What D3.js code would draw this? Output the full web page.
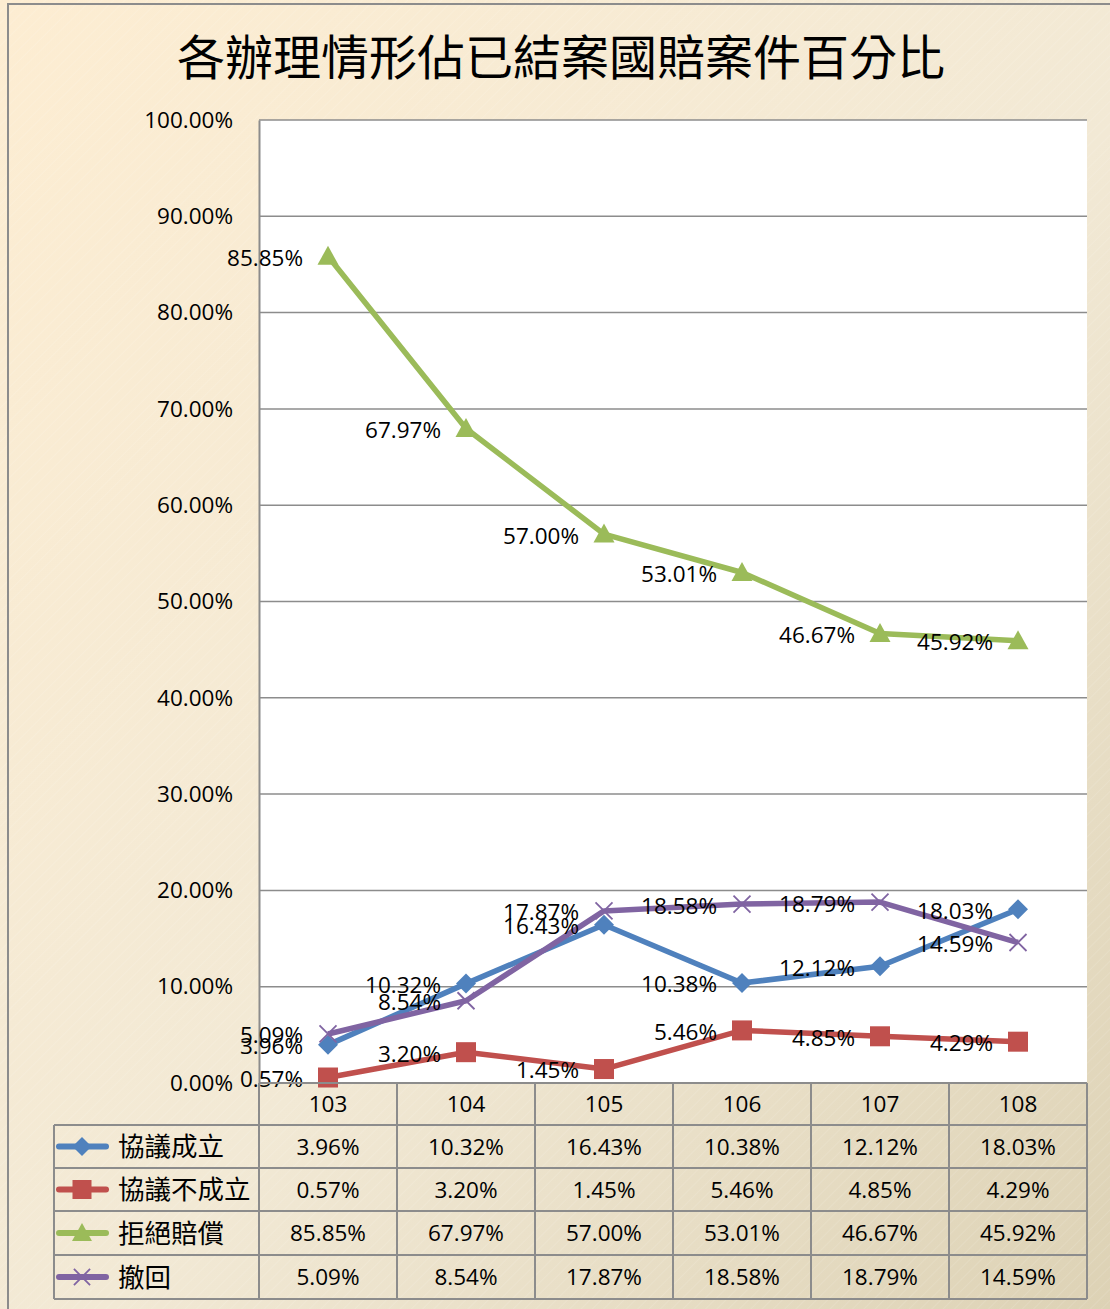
<!DOCTYPE html>
<html>
<head>
<meta charset="utf-8">
<script src="https://cdn.jsdelivr.net/npm/d3@7"></script>
<style>
  body { margin: 0; padding: 0; background: #fff; }
  svg { display: block; }
</style>
</head>
<body>
<svg id="chart" width="1110" height="1309"></svg>
<script>
// chart data
var years = ["103", "104", "105", "106", "107", "108"];
var seriesNames = ["協議成立", "協議不成立", "拒絕賠償", "撤回"];
var agreed = [3.96, 10.32, 16.43, 10.38, 12.12, 18.03];
var notAgreed = [0.57, 3.20, 1.45, 5.46, 4.85, 4.29];
var rejected = [85.85, 67.97, 57.00, 53.01, 46.67, 45.92];
var withdrawn = [5.09, 8.54, 17.87, 18.58, 18.79, 14.59];
var yTicks = [0, 10, 20, 30, 40, 50, 60, 70, 80, 90, 100];
var title = "各辦理情形佔已結案國賠案件百分比";

var colors = ["#4f81bd", "#c0504d", "#9bbb59", "#8064a2"];
var markers = ["diamond", "square", "triangle", "cross"];
var allValues = [agreed, notAgreed, rejected, withdrawn];

var svg = d3.select("#chart");
var numFont = "'Open Sans', 'Liberation Sans', sans-serif";
var cjkFont = "'Noto Sans CJK TC', 'Noto Sans CJK SC', sans-serif";
var numSize = 22.5;

// background
var defs = svg.append("defs");
var grad = defs.append("linearGradient").attr("id", "bg")
    .attr("x1", "0%").attr("y1", "0%").attr("x2", "100%").attr("y2", "100%");
grad.append("stop").attr("offset", "0%").attr("stop-color", "#fdedd2");
grad.append("stop").attr("offset", "55%").attr("stop-color", "#f2e9d5");
grad.append("stop").attr("offset", "100%").attr("stop-color", "#ddd2b5");

var pat = defs.append("pattern").attr("id", "stripes")
    .attr("width", 8).attr("height", 8)
    .attr("patternUnits", "userSpaceOnUse")
    .attr("patternTransform", "rotate(45)");
pat.append("line").attr("x1", 0).attr("y1", 0).attr("x2", 0).attr("y2", 8)
    .attr("stroke", "#ffffff").attr("stroke-width", 1).attr("stroke-opacity", 0.22);

svg.append("rect").attr("x", 0).attr("y", 0).attr("width", 1110).attr("height", 1309)
    .attr("fill", "url(#bg)");
svg.append("rect").attr("x", 0).attr("y", 0).attr("width", 1110).attr("height", 1309)
    .attr("fill", "url(#stripes)");
// outer frame
svg.append("path").attr("d", "M8,1309 V4 H1110")
    .attr("fill", "none").attr("stroke", "#8c8c8c").attr("stroke-width", 2);

// title
svg.append("text")
    .attr("x", 561).attr("y", 75)
    .attr("text-anchor", "middle")
    .attr("font-family", cjkFont)
    .attr("font-size", 48)
    .attr("fill", "#000")
    .text(title);

// scales
var plotLeft = 259, plotRight = 1087, plotTop = 120, plotBottom = 1083;
var x = d3.scaleBand().domain(years).range([plotLeft, plotRight]);
var y = d3.scaleLinear().domain([0, 100]).range([plotBottom, plotTop]);

// plot area
svg.append("rect")
    .attr("x", plotLeft).attr("y", plotTop)
    .attr("width", plotRight - plotLeft).attr("height", plotBottom - plotTop)
    .attr("fill", "#ffffff");

// gridlines
svg.append("g").selectAll("line")
    .data(yTicks)
    .enter().append("line")
    .attr("x1", plotLeft).attr("x2", plotRight)
    .attr("y1", function(d) { return y(d); })
    .attr("y2", function(d) { return y(d); })
    .attr("stroke", "#8c8c8c").attr("stroke-width", 1.5);

// y axis
var yAxis = d3.axisLeft(y)
    .tickValues(yTicks)
    .tickSize(0)
    .tickPadding(26)
    .tickFormat(function(d) { return d.toFixed(2) + "%"; });
var yg = svg.append("g").attr("transform", "translate(" + plotLeft + ",0)").call(yAxis);
yg.select(".domain").attr("stroke", "#8c8c8c").attr("stroke-width", 2);
yg.selectAll("text")
    .attr("font-family", numFont)
    .attr("font-size", numSize)
    .attr("fill", "#000");

// marker drawing
function drawMarker(g, type, color, cx, cy, scale) {
    var s = scale || 1;
    if (type === "diamond") {
        var r = 10 * s;
        g.append("path")
            .attr("d", "M" + cx + "," + (cy - r) + " L" + (cx + r) + "," + cy +
                " L" + cx + "," + (cy + r) + " L" + (cx - r) + "," + cy + "Z")
            .attr("fill", color);
    } else if (type === "square") {
        var h = 10 * s;
        g.append("rect")
            .attr("x", cx - h).attr("y", cy - h)
            .attr("width", 2 * h).attr("height", 2 * h)
            .attr("fill", color);
    } else if (type === "triangle") {
        var w = 10.5 * s;
        g.append("path")
            .attr("d", "M" + cx + "," + (cy - 10.5 * s) + " L" + (cx + w) + "," + (cy + 8.5 * s) +
                " L" + (cx - w) + "," + (cy + 8.5 * s) + "Z")
            .attr("fill", color);
    } else if (type === "cross") {
        var c = 8.5 * s;
        g.append("path")
            .attr("d", "M" + (cx - c) + "," + (cy - c) + " L" + (cx + c) + "," + (cy + c) +
                " M" + (cx + c) + "," + (cy - c) + " L" + (cx - c) + "," + (cy + c))
            .attr("stroke", color).attr("stroke-width", 1.8).attr("fill", "none");
    }
}

var line = d3.line()
    .x(function(d, i) { return x(years[i]) + x.bandwidth() / 2; })
    .y(function(d) { return y(d); });

// lines and markers
allValues.forEach(function(vals, si) {
    var g = svg.append("g");
    g.append("path")
        .datum(vals)
        .attr("d", line)
        .attr("fill", "none")
        .attr("stroke", colors[si])
        .attr("stroke-width", 5.5)
        .attr("stroke-linejoin", "round");
    vals.forEach(function(v, i) {
        drawMarker(g, markers[si], colors[si], x(years[i]) + x.bandwidth() / 2, y(v));
    });
});

// data labels (left of point)
allValues.forEach(function(vals, si) {
    svg.append("g").selectAll("text")
        .data(vals)
        .enter().append("text")
        .attr("x", function(d, i) { return x(years[i]) + x.bandwidth() / 2 - 25; })
        .attr("y", function(d) { return y(d); })
        .attr("dy", "0.42em")
        .attr("text-anchor", "end")
        .attr("font-family", numFont)
        .attr("font-size", numSize)
        .attr("fill", "#000")
        .text(function(d) { return d.toFixed(2) + "%"; });
});

// data table
var rowH = [42, 43, 43, 44, 44];
var legendLeft = 54;
var rowY = [plotBottom];
rowH.forEach(function(h, i) { rowY.push(rowY[i] + h); });
var tbl = svg.append("g");
var gridColor = "#8c8c8c";

// horizontal table lines
rowY.forEach(function(ry, i) {
    tbl.append("line")
        .attr("x1", i === 0 ? plotLeft : legendLeft).attr("x2", plotRight)
        .attr("y1", ry).attr("y2", ry)
        .attr("stroke", gridColor).attr("stroke-width", 2);
});
// vertical table lines
var colX = years.map(function(d) { return x(d); }).concat([plotRight]);
colX.forEach(function(cx) {
    tbl.append("line")
        .attr("x1", cx).attr("x2", cx)
        .attr("y1", rowY[0]).attr("y2", rowY[rowY.length - 1])
        .attr("stroke", gridColor).attr("stroke-width", 2);
});
tbl.append("line")
    .attr("x1", legendLeft).attr("x2", legendLeft)
    .attr("y1", rowY[1]).attr("y2", rowY[rowY.length - 1])
    .attr("stroke", gridColor).attr("stroke-width", 2);

// header years
tbl.selectAll("text.year")
    .data(years)
    .enter().append("text")
    .attr("class", "year")
    .attr("x", function(d) { return x(d) + x.bandwidth() / 2; })
    .attr("y", (rowY[0] + rowY[1]) / 2)
    .attr("dy", "0.36em")
    .attr("text-anchor", "middle")
    .attr("font-family", numFont)
    .attr("font-size", numSize)
    .attr("fill", "#000")
    .text(function(d) { return d; });

// rows
allValues.forEach(function(vals, si) {
    var cy = (rowY[si + 1] + rowY[si + 2]) / 2;
    var lg = tbl.append("g");
    lg.append("line")
        .attr("x1", 59).attr("x2", 106)
        .attr("y1", cy).attr("y2", cy)
        .attr("stroke", colors[si]).attr("stroke-width", 6)
        .attr("stroke-linecap", "round");
    drawMarker(lg, markers[si], colors[si], 82, cy, 0.95);
    lg.append("text")
        .attr("x", 118).attr("y", cy)
        .attr("dy", "0.36em")
        .attr("font-family", cjkFont)
        .attr("font-size", 26.5)
        .attr("fill", "#000")
        .text(seriesNames[si]);

    tbl.append("g").selectAll("text")
        .data(vals)
        .enter().append("text")
        .attr("x", function(d, i) { return x(years[i]) + x.bandwidth() / 2; })
        .attr("y", cy)
        .attr("dy", "0.36em")
        .attr("text-anchor", "middle")
        .attr("font-family", numFont)
        .attr("font-size", numSize)
        .attr("fill", "#000")
        .text(function(d) { return d.toFixed(2) + "%"; });
});
</script>
</body>
</html>
